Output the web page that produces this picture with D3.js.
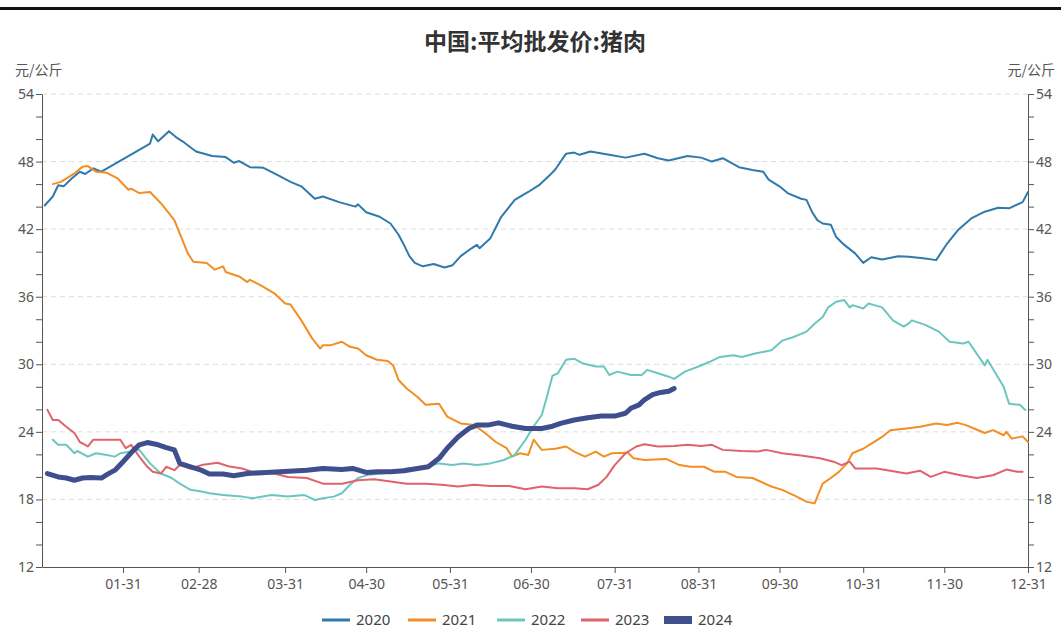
<!DOCTYPE html>
<html>
<head>
<meta charset="utf-8">
<script src="https://cdn.jsdelivr.net/npm/d3@7"></script>
<style>
  body { margin: 0; background: #fff; }
  svg { display: block; }
</style>
</head>
<body>
<script>
// taille de la page
var larg = 1061;
var haut = 643;

// series : [date "MM-JJ", valeur]
var s2020 = [["01-02",44.1],["01-05",44.9],["01-07",45.9],["01-09",45.8],["01-12",46.5],["01-15",47.1],["01-17",46.9],["01-20",47.4],["01-23",47.1],["02-10",49.6],["02-11",50.4],["02-13",49.8],["02-17",50.7],["02-20",50.1],["02-22",49.8],["02-27",48.9],["03-04",48.5],["03-09",48.4],["03-12",47.9],["03-14",48.05],["03-18",47.5],["03-23",47.45],["03-29",46.7],["04-02",46.2],["04-06",45.8],["04-11",44.7],["04-14",44.9],["04-20",44.4],["04-26",44.0],["04-27",44.2],["04-30",43.5],["05-05",43.1],["05-09",42.5],["05-12",41.5],["05-14",40.6],["05-16",39.6],["05-18",39.0],["05-21",38.7],["05-25",38.9],["05-29",38.6],["06-01",38.8],["06-04",39.6],["06-08",40.3],["06-10",40.6],["06-11",40.3],["06-15",41.2],["06-19",43.1],["06-24",44.6],["06-29",45.3],["07-03",45.9],["07-07",46.8],["07-09",47.3],["07-13",48.7],["07-16",48.8],["07-18",48.6],["07-22",48.9],["07-29",48.6],["08-04",48.35],["08-11",48.7],["08-16",48.3],["08-20",48.1],["08-27",48.5],["09-01",48.35],["09-05",48.0],["09-09",48.3],["09-15",47.5],["09-20",47.25],["09-24",47.1],["09-26",46.4],["09-30",45.8],["10-03",45.2],["10-08",44.7],["10-10",44.6],["10-12",43.55],["10-14",42.8],["10-16",42.5],["10-19",42.4],["10-21",41.3],["10-24",40.6],["10-28",39.85],["10-31",39.0],["11-03",39.5],["11-07",39.3],["11-13",39.6],["11-17",39.55],["11-23",39.4],["11-27",39.25],["12-01",40.7],["12-05",41.9],["12-10",42.95],["12-15",43.55],["12-20",43.9],["12-24",43.85],["12-29",44.4],["12-31",45.3]];

var s2021 = [["01-05",46.0],["01-08",46.2],["01-13",46.95],["01-16",47.55],["01-18",47.6],["01-21",47.1],["01-25",47.0],["01-29",46.5],["02-02",45.5],["02-03",45.6],["02-06",45.2],["02-10",45.3],["02-14",44.3],["02-19",42.8],["02-21",41.6],["02-24",39.85],["02-26",39.1],["03-02",39.0],["03-05",38.4],["03-08",38.7],["03-09",38.2],["03-14",37.8],["03-17",37.3],["03-18",37.5],["03-22",37.0],["03-27",36.3],["03-31",35.4],["04-02",35.3],["04-06",33.9],["04-10",32.3],["04-13",31.4],["04-14",31.7],["04-17",31.7],["04-21",32.0],["04-24",31.55],["04-27",31.4],["04-30",30.8],["05-04",30.4],["05-08",30.3],["05-10",29.9],["05-12",28.6],["05-15",27.85],["05-19",27.1],["05-22",26.4],["05-27",26.5],["05-30",25.35],["06-04",24.75],["06-09",24.6],["06-13",23.9],["06-17",23.1],["06-21",22.55],["06-23",21.8],["06-26",22.1],["06-29",21.95],["07-01",23.3],["07-04",22.4],["07-09",22.5],["07-13",22.7],["07-16",22.25],["07-20",21.8],["07-24",22.25],["07-27",21.8],["07-30",22.1],["08-05",22.15],["08-07",21.65],["08-11",21.5],["08-19",21.6],["08-24",21.05],["08-28",20.9],["09-02",20.9],["09-06",20.45],["09-10",20.45],["09-14",20.0],["09-20",19.9],["09-27",19.15],["10-01",18.85],["10-06",18.3],["10-10",17.8],["10-13",17.65],["10-16",19.4],["10-19",19.9],["10-22",20.45],["10-25",21.2],["10-27",22.1],["10-31",22.5],["11-03",22.95],["11-07",23.55],["11-10",24.15],["11-16",24.3],["11-21",24.45],["11-27",24.75],["12-01",24.6],["12-05",24.8],["12-08",24.6],["12-11",24.3],["12-15",23.9],["12-18",24.15],["12-22",23.7],["12-23",24.0],["12-25",23.4],["12-29",23.6],["12-31",23.1]];

var s2022 = [["01-05",23.3],["01-07",22.85],["01-10",22.85],["01-13",22.1],["01-14",22.3],["01-18",21.8],["01-21",22.1],["01-25",21.95],["01-28",21.8],["01-30",22.1],["02-03",22.25],["02-06",22.4],["02-10",21.2],["02-14",20.3],["02-18",19.9],["02-21",19.4],["02-25",18.85],["02-29",18.7],["03-03",18.55],["03-08",18.4],["03-15",18.25],["03-19",18.1],["03-26",18.4],["04-01",18.25],["04-07",18.4],["04-11",17.95],["04-14",18.1],["04-18",18.25],["04-21",18.55],["04-24",19.3],["04-27",19.9],["05-01",20.2],["05-06",20.3],["05-10",20.45],["05-15",20.75],["05-22",20.9],["05-27",21.2],["06-01",21.05],["06-05",21.2],["06-10",21.05],["06-15",21.2],["06-20",21.5],["06-24",21.95],["06-28",23.3],["07-01",24.5],["07-04",25.5],["07-06",27.2],["07-08",29.0],["07-10",29.2],["07-13",30.4],["07-16",30.5],["07-19",30.1],["07-24",29.8],["07-27",29.8],["07-29",29.05],["08-01",29.35],["08-06",29.05],["08-10",29.05],["08-12",29.5],["08-16",29.2],["08-20",28.9],["08-22",28.7],["08-26",29.35],["08-31",29.8],["09-04",30.2],["09-08",30.65],["09-13",30.8],["09-16",30.65],["09-21",30.95],["09-27",31.25],["10-01",32.1],["10-05",32.4],["10-10",32.9],["10-13",33.6],["10-16",34.2],["10-18",35.05],["10-21",35.55],["10-24",35.7],["10-26",35.05],["10-27",35.25],["10-31",34.95],["11-02",35.4],["11-07",35.05],["11-11",33.9],["11-15",33.35],["11-17",33.65],["11-18",33.9],["11-23",33.5],["11-28",32.9],["12-02",32.0],["12-07",31.85],["12-09",32.0],["12-12",30.95],["12-15",29.9],["12-16",30.4],["12-19",29.2],["12-22",28.0],["12-24",26.5],["12-28",26.4],["12-30",25.95]];

var s2023 = [["01-03",25.95],["01-05",25.05],["01-07",25.05],["01-10",24.45],["01-13",23.9],["01-15",23.1],["01-17",22.85],["01-18",22.7],["01-20",23.3],["01-25",23.3],["01-30",23.3],["02-01",22.55],["02-03",22.85],["02-06",21.8],["02-09",20.9],["02-11",20.45],["02-14",20.3],["02-16",20.9],["02-19",20.6],["02-21",21.05],["02-25",20.75],["02-29",21.05],["03-06",21.25],["03-10",20.95],["03-15",20.75],["03-19",20.45],["03-27",20.3],["04-01",20.0],["04-08",19.9],["04-14",19.4],["04-21",19.4],["04-27",19.7],["05-03",19.8],["05-09",19.6],["05-15",19.4],["05-22",19.4],["05-28",19.3],["06-03",19.15],["06-09",19.3],["06-15",19.2],["06-22",19.2],["06-28",18.9],["07-04",19.15],["07-10",19.0],["07-16",19.0],["07-21",18.9],["07-25",19.3],["07-28",20.0],["07-31",21.05],["08-04",22.1],["08-08",22.7],["08-11",22.9],["08-16",22.7],["08-22",22.75],["08-27",22.85],["09-01",22.75],["09-05",22.85],["09-09",22.4],["09-16",22.3],["09-22",22.25],["09-25",22.4],["10-01",22.1],["10-08",21.9],["10-15",21.65],["10-20",21.35],["10-23",21.05],["10-26",21.35],["10-28",20.75],["11-01",20.75],["11-05",20.75],["11-10",20.55],["11-16",20.3],["11-21",20.55],["11-25",20.0],["11-30",20.45],["12-06",20.15],["12-12",19.9],["12-18",20.15],["12-23",20.65],["12-27",20.45],["12-29",20.45]];

var s2024 = [["01-03",20.3],["01-07",20.0],["01-10",19.9],["01-13",19.7],["01-16",19.9],["01-19",19.95],["01-23",19.9],["01-25",20.2],["01-28",20.6],["01-31",21.35],["02-04",22.4],["02-06",22.85],["02-09",23.05],["02-13",22.85],["02-16",22.6],["02-19",22.4],["02-20",21.8],["02-21",21.2],["02-25",20.9],["02-29",20.6],["03-03",20.25],["03-08",20.25],["03-12",20.1],["03-17",20.3],["03-24",20.4],["03-29",20.45],["04-08",20.6],["04-14",20.75],["04-21",20.65],["04-25",20.75],["04-30",20.4],["05-04",20.45],["05-09",20.45],["05-14",20.55],["05-19",20.75],["05-23",20.9],["05-27",21.65],["05-30",22.55],["06-03",23.55],["06-07",24.3],["06-10",24.6],["06-14",24.6],["06-18",24.8],["06-23",24.5],["06-28",24.3],["07-04",24.3],["07-08",24.5],["07-11",24.75],["07-16",25.05],["07-21",25.25],["07-26",25.4],["07-31",25.4],["08-04",25.65],["08-06",26.1],["08-09",26.4],["08-11",26.85],["08-14",27.3],["08-17",27.5],["08-20",27.6],["08-22",27.85]];

var annees = ["2020", "2021", "2022", "2023", "2024"];
var donnees = [s2020, s2021, s2022, s2023, s2024];
var couleurs = ["#2f7aab", "#f28f24", "#6cc6c0", "#e0626a", "#3f4f8e"];
var epaisseurs = [2, 2, 2, 2, 5];

var xLabels = ["01-31","02-28","03-31","04-30","05-31","06-30","07-31","08-31","09-30","10-31","11-30","12-31"];
var yTicks = [12,14,16,18,20,22,24,26,28,30,32,34,36,38,40,42,44,46,48,50,52,54];
var yMajors = [12,18,24,30,36,42,48,54];

var titre = "中国:平均批发价:猪肉";
var unite = "元/公斤";

var parse = d3.timeParse("%Y-%m-%d");
function jour(s) { return parse("2024-" + s); }

var gauche = 42, droite = 1028, hautG = 94, basG = 567;

var x = d3.scaleTime()
  .domain([jour("01-01"), jour("12-31")])
  .range([gauche, droite]);

var y = d3.scaleLinear()
  .domain([12, 54])
  .range([basG, hautG]);

var svg = d3.select("body")
  .append("svg")
  .attr("width", larg)
  .attr("height", haut);

// barre noire en haut
svg.append("rect")
  .attr("x", 0).attr("y", 7)
  .attr("width", larg).attr("height", 3)
  .attr("fill", "#111");

// titre
svg.append("text")
  .attr("x", 535).attr("y", 50)
  .attr("text-anchor", "middle")
  .attr("font-family", "'Noto Sans CJK SC', sans-serif")
  .attr("font-size", 23)
  .attr("font-weight", "bold")
  .attr("fill", "#333")
  .text(titre);

// unites
var police = "'Noto Sans', 'Noto Sans CJK SC', sans-serif";
svg.append("text")
  .attr("x", 15).attr("y", 75)
  .attr("font-family", "'Noto Sans CJK SC', sans-serif")
  .attr("font-size", 14).attr("fill", "#555")
  .text(unite);
svg.append("text")
  .attr("x", 1055).attr("y", 75)
  .attr("text-anchor", "end")
  .attr("font-family", "'Noto Sans CJK SC', sans-serif")
  .attr("font-size", 14).attr("fill", "#555")
  .text(unite);

// grille
svg.append("g")
  .selectAll("line")
  .data(yMajors.filter(function(d) { return d > 12; }))
  .enter()
  .append("line")
  .attr("x1", gauche).attr("x2", droite)
  .attr("y1", function(d) { return y(d); })
  .attr("y2", function(d) { return y(d); })
  .attr("stroke", "#ddd")
  .attr("stroke-dasharray", "5,4");

function fmtY(d) { return yMajors.indexOf(d) >= 0 ? d : ""; }

function styleAxe(g) {
  g.selectAll("path, line").attr("stroke", "#555");
  g.selectAll("text")
    .attr("fill", "#555")
    .attr("font-family", police)
    .attr("font-size", 14);
}

svg.append("g")
  .attr("transform", "translate(" + gauche + ",0)")
  .call(d3.axisLeft(y).tickValues(yTicks).tickFormat(fmtY).tickSize(6).tickSizeOuter(0).tickPadding(2))
  .call(styleAxe);

svg.append("g")
  .attr("transform", "translate(" + droite + ",0)")
  .call(d3.axisRight(y).tickValues(yTicks).tickFormat(fmtY).tickSize(6).tickSizeOuter(0).tickPadding(2))
  .call(styleAxe);

svg.append("g")
  .attr("transform", "translate(0," + basG + ")")
  .call(d3.axisBottom(x)
    .tickValues(xLabels.map(jour))
    .tickFormat(d3.timeFormat("%m-%d"))
    .tickSize(6).tickSizeOuter(0).tickPadding(6))
  .call(styleAxe);

// courbes
var ligne = d3.line()
  .x(function(d) { return x(jour(d[0])); })
  .y(function(d) { return y(d[1]); });

donnees.forEach(function(serie, i) {
  svg.append("path")
    .datum(serie)
    .attr("d", ligne)
    .attr("fill", "none")
    .attr("stroke", couleurs[i])
    .attr("stroke-width", epaisseurs[i])
    .attr("stroke-linejoin", "round")
    .attr("stroke-linecap", "round");
});

// legende
var legX = [322, 408, 497, 581, 664];
var leg = svg.append("g")
  .selectAll("g")
  .data(annees)
  .enter()
  .append("g")
  .attr("transform", function(d, i) { return "translate(" + legX[i] + ",620)"; });

leg.append("line")
  .attr("x1", 0).attr("x2", 28)
  .attr("stroke", function(d, i) { return couleurs[i]; })
  .attr("stroke-width", function(d, i) { return i === 4 ? 8 : 3; });

leg.append("text")
  .attr("x", 34).attr("y", 5)
  .attr("font-family", police)
  .attr("font-size", 15)
  .attr("fill", "#444")
  .text(function(d) { return d; });
</script>
</body>
</html>
